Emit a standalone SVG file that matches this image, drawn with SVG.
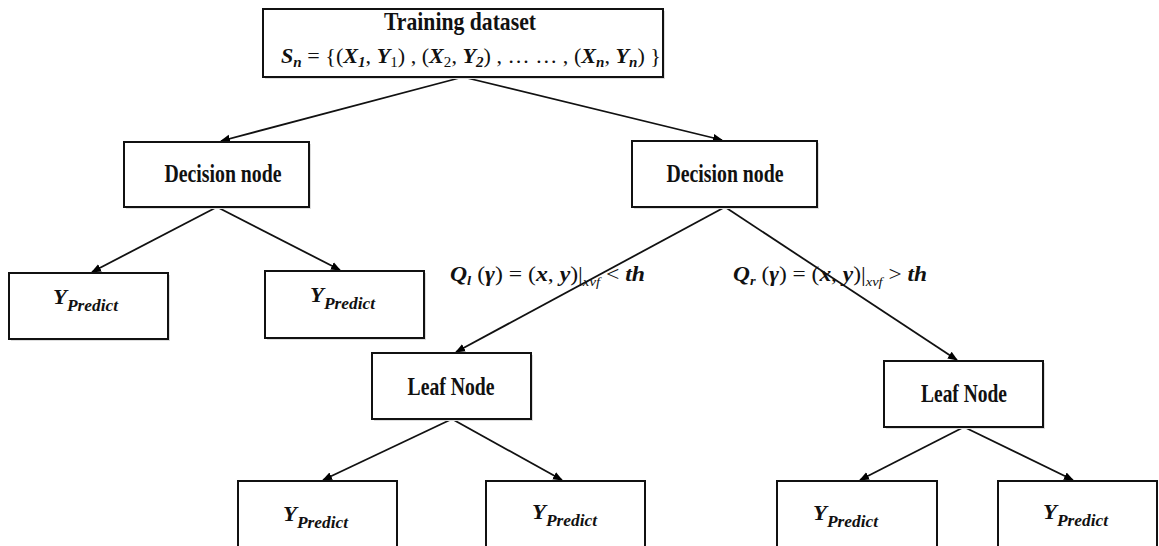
<svg xmlns="http://www.w3.org/2000/svg" width="1159" height="546" viewBox="0 0 1159 546">
<defs>
<marker id="arr" viewBox="0 0 10 10" refX="9" refY="5" markerWidth="10" markerHeight="10" markerUnits="userSpaceOnUse" orient="auto">
<path d="M0,1 L10,5 L0,9 Z" fill="#000"/>
</marker>
</defs>
<style>
.box{fill:#fff;stroke:#111;stroke-width:2}
.sh{fill:#ddd;stroke:none}
.lbl{font-family:"Liberation Serif",serif;font-weight:bold;font-size:25px;fill:#111}
.m{font-family:"Liberation Serif",serif;font-style:italic;font-weight:bold;fill:#111}
.r{font-style:normal;font-weight:normal}
.ri{font-style:italic;font-weight:normal}
.c{stroke:#111;stroke-width:1.8;fill:none;marker-end:url(#arr)}
</style>
<rect width="1159" height="546" fill="#fff"/>
<g id="connectors">
<line class="c" x1="463" y1="77" x2="221" y2="141"/>
<line class="c" x1="463" y1="77" x2="722" y2="140"/>
<line class="c" x1="217" y1="207" x2="92" y2="272"/>
<line class="c" x1="217" y1="207" x2="340" y2="270"/>
<line class="c" x1="725" y1="207" x2="456" y2="352"/>
<line class="c" x1="725" y1="207" x2="957" y2="360"/>
<line class="c" x1="452" y1="419" x2="323" y2="480"/>
<line class="c" x1="452" y1="419" x2="562" y2="480"/>
<line class="c" x1="964" y1="427" x2="860" y2="480"/>
<line class="c" x1="964" y1="427" x2="1073" y2="480"/>
</g>
<g id="edge-labels">
<text class="m" x="450" y="281" font-size="21" textLength="195" lengthAdjust="spacingAndGlyphs">Q<tspan font-size="13" dy="4">l</tspan><tspan dy="-4" class="r"> (</tspan>γ<tspan class="r">) = (</tspan>x<tspan class="r">, </tspan>y<tspan class="r">)|</tspan><tspan font-size="13" dy="5" class="ri">xvf</tspan><tspan dy="-5" class="r"> &lt; </tspan>th</text>
<text class="m" x="733" y="281" font-size="21" textLength="194" lengthAdjust="spacingAndGlyphs">Q<tspan font-size="13" dy="4">r</tspan><tspan dy="-4" class="r"> (</tspan>γ<tspan class="r">) = (</tspan>x<tspan class="r">, </tspan>y<tspan class="r">)|</tspan><tspan font-size="13" dy="5" class="ri">xvf</tspan><tspan dy="-5" class="r"> &gt; </tspan>th</text>
</g>
<g id="root">
<rect class="sh" x="265" y="11" width="400" height="68"/>
<rect class="box" x="263" y="9" width="400" height="68"/>
<text class="lbl" x="460" y="30" text-anchor="middle" font-size="23" textLength="152" lengthAdjust="spacingAndGlyphs">Training dataset</text>
<text class="m" x="281" y="63" font-size="22" textLength="380" lengthAdjust="spacingAndGlyphs">S<tspan font-size="15" dy="4">n</tspan><tspan dy="-4" class="r"> =  {(</tspan>X<tspan font-size="15" dy="4">1</tspan><tspan dy="-4" class="r">, </tspan>Y<tspan font-size="15" dy="4" class="r">1</tspan><tspan dy="-4" class="r">) , (</tspan>X<tspan font-size="15" dy="4" class="r">2</tspan><tspan dy="-4" class="r">, </tspan>Y<tspan font-size="15" dy="4">2</tspan><tspan dy="-4" class="r">) , … … , (</tspan>X<tspan font-size="15" dy="4">n</tspan><tspan dy="-4" class="r">, </tspan>Y<tspan font-size="15" dy="4">n</tspan><tspan dy="-4" class="r">) }</tspan></text>
</g>
<g id="decision-left">
<rect class="sh" x="126" y="144" width="185" height="65"/>
<rect class="box" x="124" y="142" width="185" height="65"/>
<text class="lbl" x="223" y="182" text-anchor="middle" textLength="117" lengthAdjust="spacingAndGlyphs">Decision node</text>
</g>
<g id="decision-right">
<rect class="sh" x="634" y="143" width="185" height="66"/>
<rect class="box" x="632" y="141" width="185" height="66"/>
<text class="lbl" x="725" y="182" text-anchor="middle" textLength="117" lengthAdjust="spacingAndGlyphs">Decision node</text>
</g>
<g id="predict-1">
<rect class="sh" x="11" y="275" width="159" height="66"/>
<rect class="box" x="9" y="273" width="159" height="66"/>
<text class="m" x="53" y="304" font-size="21" textLength="65" lengthAdjust="spacingAndGlyphs">Y<tspan font-size="16" dy="7">Predict</tspan></text>
</g>
<g id="predict-2">
<rect class="sh" x="267" y="273" width="159" height="67"/>
<rect class="box" x="265" y="271" width="159" height="67"/>
<text class="m" x="310" y="302" font-size="21" textLength="65" lengthAdjust="spacingAndGlyphs">Y<tspan font-size="16" dy="7">Predict</tspan></text>
</g>
<g id="leaf-left">
<rect class="sh" x="374" y="355" width="159" height="66"/>
<rect class="box" x="372" y="353" width="159" height="66"/>
<text class="lbl" x="451" y="395" text-anchor="middle" textLength="87" lengthAdjust="spacingAndGlyphs">Leaf Node</text>
</g>
<g id="leaf-right">
<rect class="sh" x="886" y="363" width="159" height="66"/>
<rect class="box" x="884" y="361" width="159" height="66"/>
<text class="lbl" x="964" y="402" text-anchor="middle" textLength="86" lengthAdjust="spacingAndGlyphs">Leaf Node</text>
</g>
<g id="predict-3">
<rect class="box" x="238" y="481" width="159" height="80"/>
<text class="m" x="283" y="521" font-size="21" textLength="65" lengthAdjust="spacingAndGlyphs">Y<tspan font-size="16" dy="7">Predict</tspan></text>
</g>
<g id="predict-4">
<rect class="box" x="486" y="481" width="159" height="80"/>
<text class="m" x="532" y="519" font-size="21" textLength="65" lengthAdjust="spacingAndGlyphs">Y<tspan font-size="16" dy="7">Predict</tspan></text>
</g>
<g id="predict-5">
<rect class="box" x="777" y="481" width="160" height="80"/>
<text class="m" x="813" y="520" font-size="21" textLength="65" lengthAdjust="spacingAndGlyphs">Y<tspan font-size="16" dy="7">Predict</tspan></text>
</g>
<g id="predict-6">
<rect class="box" x="998" y="481" width="159" height="80"/>
<text class="m" x="1043" y="519" font-size="21" textLength="65" lengthAdjust="spacingAndGlyphs">Y<tspan font-size="16" dy="7">Predict</tspan></text>
</g>
</svg>
